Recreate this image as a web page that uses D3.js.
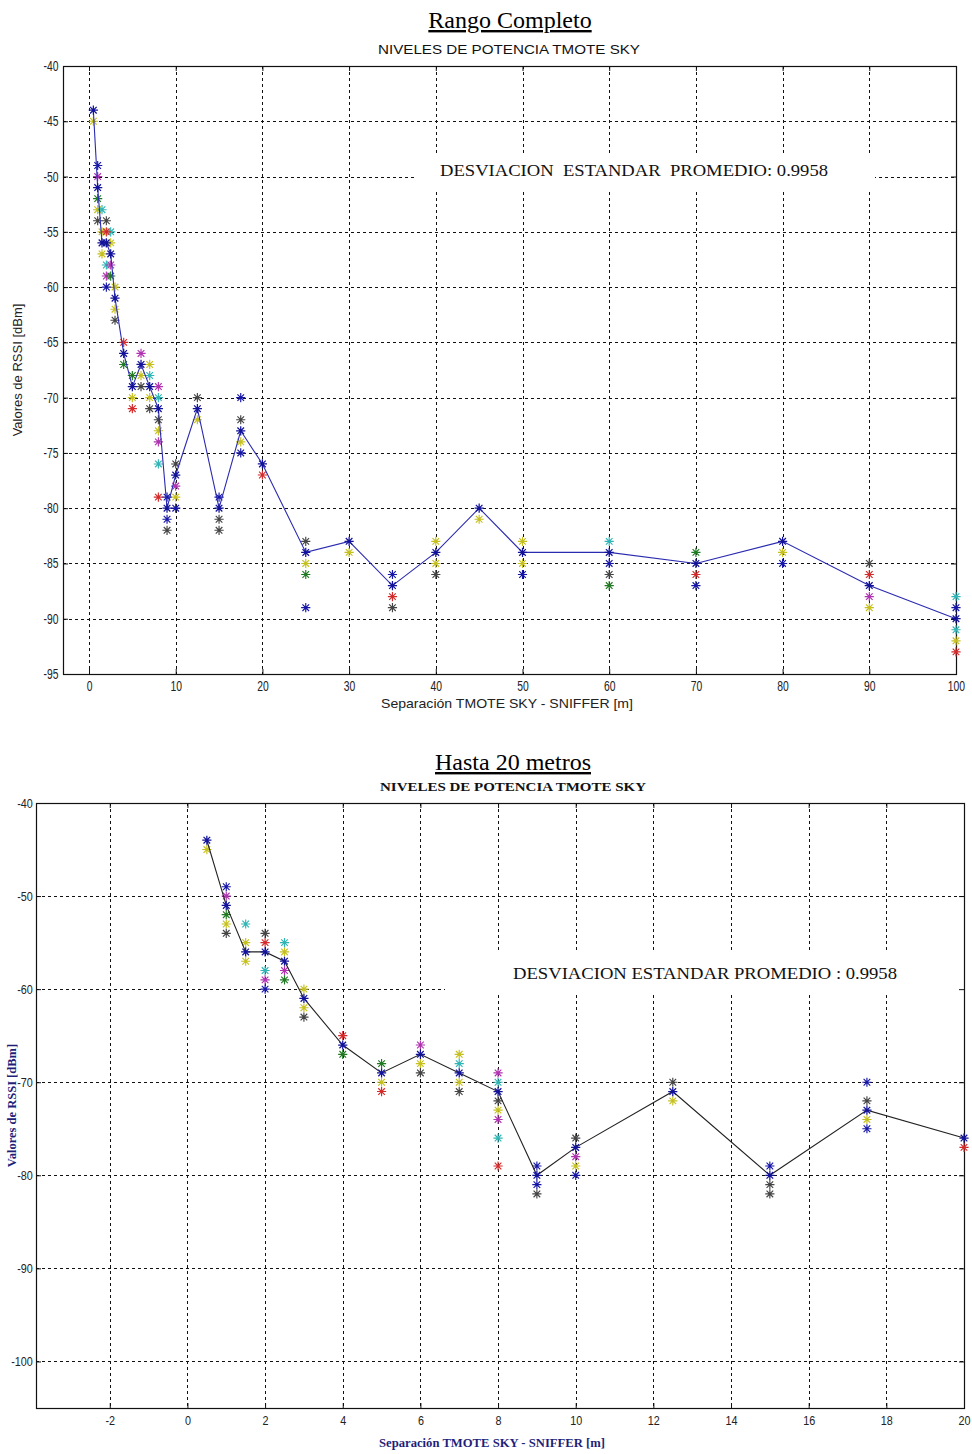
<!DOCTYPE html>
<html>
<head>
<meta charset="utf-8">
<script src="https://cdn.jsdelivr.net/npm/d3@7"></script>
<style>
  body { margin: 0; background: #fff; }
  svg { display: block; }
</style>
</head>
<body>
<svg id="chart" width="972" height="1454"></svg>
<script>
// distances (m) and averaged RSSI (dBm) for the mean line
var distances = [0.5, 1, 1.5, 2, 2.5, 3, 4, 5, 6, 7, 8, 9, 10, 12.5, 15, 17.5, 20, 25, 30, 35, 40, 45, 50, 60, 70, 80, 90, 100];
var meanRssi  = [-44, -51, -56, -56, -57, -61, -66, -69, -67, -69, -71, -80, -77, -71, -80, -73, -76, -84, -83, -87, -84, -80, -84, -84, -85, -83, -87, -90];

// single readings, one list per marker colour  [distance, rssi]
var blueRssi = [[1,-49],[2,-60],[9,-79],[9,-81],[10,-80],[15,-79],[17.5,-70],[17.5,-75],[25,-89],[35,-86],[50,-86],[60,-85],[70,-87],[80,-85],[100,-89]];
var greenRssi = [[1,-52],[2.5,-59],[4,-67],[5,-68],[25,-86],[60,-87],[70,-84]];
var redRssi = [[2,-55],[4,-65],[5,-71],[8,-79],[20,-77],[35,-88],[70,-86],[90,-86],[100,-93]];
var cyanRssi = [[1.5,-53],[2,-58],[2.5,-55],[7,-68],[8,-70],[8,-76],[60,-83],[100,-88],[100,-91]];
var magentaRssi = [[1,-50],[2,-59],[2.5,-58],[6,-66],[8,-69],[8,-74],[10,-78],[90,-88]];
var yellowRssi = [[0.5,-45],[1,-53],[1.5,-55],[1.5,-57],[2.5,-56],[3,-60],[3,-62],[5,-70],[6,-68],[7,-67],[7,-70],[8,-73],[10,-79],[12.5,-72],[17.5,-74],[25,-85],[30,-84],[40,-83],[40,-85],[45,-81],[50,-83],[50,-85],[80,-84],[90,-89],[100,-92]];
var darkRssi = [[1,-54],[2,-54],[3,-63],[6,-69],[7,-71],[8,-72],[9,-82],[10,-76],[12.5,-70],[15,-81],[15,-82],[17.5,-72],[25,-83],[35,-89],[40,-86],[60,-86],[90,-85]];

// tick values
var xTicksFull = [0, 10, 20, 30, 40, 50, 60, 70, 80, 90, 100];
var yTicksFull = [-40, -45, -50, -55, -60, -65, -70, -75, -80, -85, -90, -95];
var xTicksZoom = [-2, 0, 2, 4, 6, 8, 10, 12, 14, 16, 18, 20];
var yTicksZoom = [-40, -50, -60, -70, -80, -90, -100];

var stdText1 = "DESVIACION  ESTANDAR  PROMEDIO: 0.9958";
var stdText2 = "DESVIACION ESTANDAR PROMEDIO : 0.9958";

var colorSets = [
  { pts: yellowRssi, color: "#c6c01e" },
  { pts: cyanRssi, color: "#2fb5b5" },
  { pts: magentaRssi, color: "#b032b0" },
  { pts: greenRssi, color: "#1f7a22" },
  { pts: redRssi, color: "#d42a2a" },
  { pts: darkRssi, color: "#444444" },
  { pts: blueRssi, color: "#1616a8" }
];

var svg = d3.select("#chart");
var sans = "'Liberation Sans', Arial, sans-serif";
var serif = "'Liberation Serif', 'Times New Roman', serif";

// asterisk marker like matlab '*'
function star(s) {
  var d = s * 0.72;
  return "M" + (-s) + ",0L" + s + ",0M0," + (-s) + "L0," + s +
         "M" + (-d) + "," + (-d) + "L" + d + "," + d +
         "M" + (-d) + "," + d + "L" + d + "," + (-d);
}

function drawChart(cfg) {
  var x = d3.scaleLinear().domain(cfg.xDomain).range([cfg.left, cfg.right]);
  var y = d3.scaleLinear().domain(cfg.yDomain).range([cfg.bottom, cfg.top]);
  var g = svg.append("g");

  // headline (underlined)
  g.append("text")
    .attr("x", cfg.headX).attr("y", cfg.headY)
    .attr("text-anchor", "middle")
    .style("font-family", serif).style("font-size", "24px")
    .style("text-decoration", "underline")
    .text(cfg.head);

  g.append("text")
    .attr("x", cfg.titleX).attr("y", cfg.titleY)
    .attr("text-anchor", "middle")
    .attr("textLength", cfg.titleLen).attr("lengthAdjust", "spacingAndGlyphs")
    .style("font-family", cfg.titleFont).style("font-size", cfg.titleSize)
    .style("font-weight", cfg.titleWeight)
    .style("fill", "#111")
    .text("NIVELES DE POTENCIA TMOTE SKY");

  // grid
  var grid = g.append("g").attr("stroke", "#111").attr("stroke-width", 1).attr("stroke-dasharray", "3,3");
  grid.selectAll(".vx").data(cfg.xTicks.filter(function(t) { return x(t) > cfg.left + 1 && x(t) < cfg.right - 1; }))
    .enter().append("line")
    .attr("x1", function(d) { return Math.round(x(d)) + 0.5; })
    .attr("x2", function(d) { return Math.round(x(d)) + 0.5; })
    .attr("y1", cfg.top).attr("y2", cfg.bottom);
  grid.selectAll(".hy").data(cfg.yTicks.filter(function(t) { return y(t) > cfg.top + 1 && y(t) < cfg.bottom - 1; }))
    .enter().append("line")
    .attr("y1", function(d) { return Math.round(y(d)) + 0.5; })
    .attr("y2", function(d) { return Math.round(y(d)) + 0.5; })
    .attr("x1", cfg.left).attr("x2", cfg.right);

  // white label box
  g.append("rect")
    .attr("x", cfg.box[0]).attr("y", cfg.box[1])
    .attr("width", cfg.box[2]).attr("height", cfg.box[3])
    .attr("fill", "#fff");
  g.append("text")
    .attr("x", cfg.stdX).attr("y", cfg.stdY)
    .attr("textLength", cfg.stdLen).attr("lengthAdjust", "spacingAndGlyphs")
    .style("font-family", serif).style("font-size", "16px")
    .style("fill", "#111")
    .style("white-space", "pre")
    .text(cfg.stdText);

  // axes with inner ticks on all four sides, narrow tick labels
  function styleAxis(sel) {
    sel.select(".domain").remove();
    sel.selectAll("line").attr("stroke", "#111");
    sel.selectAll("text")
      .style("font-family", sans).style("font-size", cfg.tickSize).style("fill", "#222")
      .attr("transform", "scale(" + cfg.tickSquash + ",1)");
  }
  var fmt = function(d) { return String(d); };
  g.append("g").attr("transform", "translate(0," + cfg.bottom + ")")
    .call(d3.axisBottom(x).tickValues(cfg.xTicks).tickSize(-5).tickPadding(cfg.xPad).tickFormat(fmt))
    .call(styleAxis);
  g.append("g").attr("transform", "translate(0," + cfg.top + ")")
    .call(d3.axisTop(x).tickValues(cfg.xTicks).tickSize(-5).tickFormat(""))
    .call(styleAxis);
  g.append("g").attr("transform", "translate(" + cfg.left + ",0)")
    .call(d3.axisLeft(y).tickValues(cfg.yTicks).tickSize(-5).tickPadding(cfg.yPad).tickFormat(fmt))
    .call(styleAxis);
  g.append("g").attr("transform", "translate(" + cfg.right + ",0)")
    .call(d3.axisRight(y).tickValues(cfg.yTicks).tickSize(-5).tickFormat(""))
    .call(styleAxis);

  g.append("rect")
    .attr("x", cfg.left + 0.5).attr("y", cfg.top + 0.5)
    .attr("width", cfg.right - cfg.left).attr("height", cfg.bottom - cfg.top)
    .attr("fill", "none").attr("stroke", "#111").attr("stroke-width", 1.2);

  // readings
  var inRange = function(p) { return p[0] <= cfg.xDomain[1]; };
  colorSets.forEach(function(set) {
    g.append("g").selectAll("path").data(set.pts.filter(inRange)).enter().append("path")
      .attr("transform", function(d) { return "translate(" + x(d[0]) + "," + y(d[1]) + ")"; })
      .attr("d", star(4.6))
      .attr("fill", "none").attr("stroke", set.color).attr("stroke-width", 1.15);
  });

  // mean line
  var meanPts = distances.map(function(d, i) { return [d, meanRssi[i]]; }).filter(inRange);
  var line = d3.line().x(function(d) { return x(d[0]); }).y(function(d) { return y(d[1]); });
  g.append("path").datum(meanPts)
    .attr("d", line).attr("fill", "none")
    .attr("stroke", cfg.lineColor).attr("stroke-width", 1.1);
  g.append("g").selectAll("path").data(meanPts).enter().append("path")
    .attr("transform", function(d) { return "translate(" + x(d[0]) + "," + y(d[1]) + ")"; })
    .attr("d", star(4.6))
    .attr("fill", "none").attr("stroke", "#12129a").attr("stroke-width", 1.25);

  // axis labels
  g.append("text")
    .attr("x", cfg.xLabelX).attr("y", cfg.xLabelY)
    .attr("text-anchor", "middle")
    .attr("textLength", cfg.xLabelLen).attr("lengthAdjust", "spacingAndGlyphs")
    .style("font-family", cfg.labelFont).style("font-size", cfg.labelSize)
    .style("font-weight", cfg.labelWeight).style("fill", cfg.labelColor)
    .text("Separación TMOTE SKY - SNIFFER [m]");
  g.append("text")
    .attr("transform", "translate(" + cfg.yLabelX + "," + ((cfg.top + cfg.bottom) / 2) + ") rotate(-90)")
    .attr("text-anchor", "middle")
    .style("font-family", cfg.labelFont).style("font-size", cfg.labelSize)
    .style("font-weight", cfg.labelWeight).style("fill", cfg.labelColor)
    .text("Valores de RSSI [dBm]");
}

drawChart({
  head: "Rango Completo", headX: 510, headY: 28,
  titleX: 509, titleY: 54, titleFont: sans, titleSize: "13.5px", titleWeight: "normal", titleLen: 262,
  left: 63, right: 956, top: 66, bottom: 674,
  xDomain: [-3, 100], yDomain: [-95, -40],
  xTicks: xTicksFull, yTicks: yTicksFull,
  tickSize: "14px", tickSquash: 0.74, xPad: 7, yPad: 6,
  box: [415, 153, 460, 36],
  stdText: stdText1, stdX: 440, stdY: 176, stdLen: 388,
  lineColor: "#2b2bb0",
  labelFont: sans, labelSize: "13px", labelWeight: "normal", labelColor: "#222",
  xLabelX: 507, xLabelY: 708, xLabelLen: 252, yLabelX: 22
});

drawChart({
  head: "Hasta 20 metros", headX: 513, headY: 770,
  titleX: 513, titleY: 791, titleFont: serif, titleSize: "13.5px", titleWeight: "bold", titleLen: 266,
  left: 36, right: 964, top: 803, bottom: 1408,
  xDomain: [-3.9, 20], yDomain: [-105, -40],
  xTicks: xTicksZoom, yTicks: yTicksZoom,
  tickSize: "13.5px", tickSquash: 0.8, xPad: 7, yPad: 4,
  box: [445, 950, 518, 44],
  stdText: stdText2, stdX: 513, stdY: 979, stdLen: 384,
  lineColor: "#222",
  labelFont: serif, labelSize: "12.5px", labelWeight: "bold", labelColor: "#1f1f7a",
  xLabelX: 492, xLabelY: 1447, xLabelLen: 226, yLabelX: 16
});
</script>
</body>
</html>
